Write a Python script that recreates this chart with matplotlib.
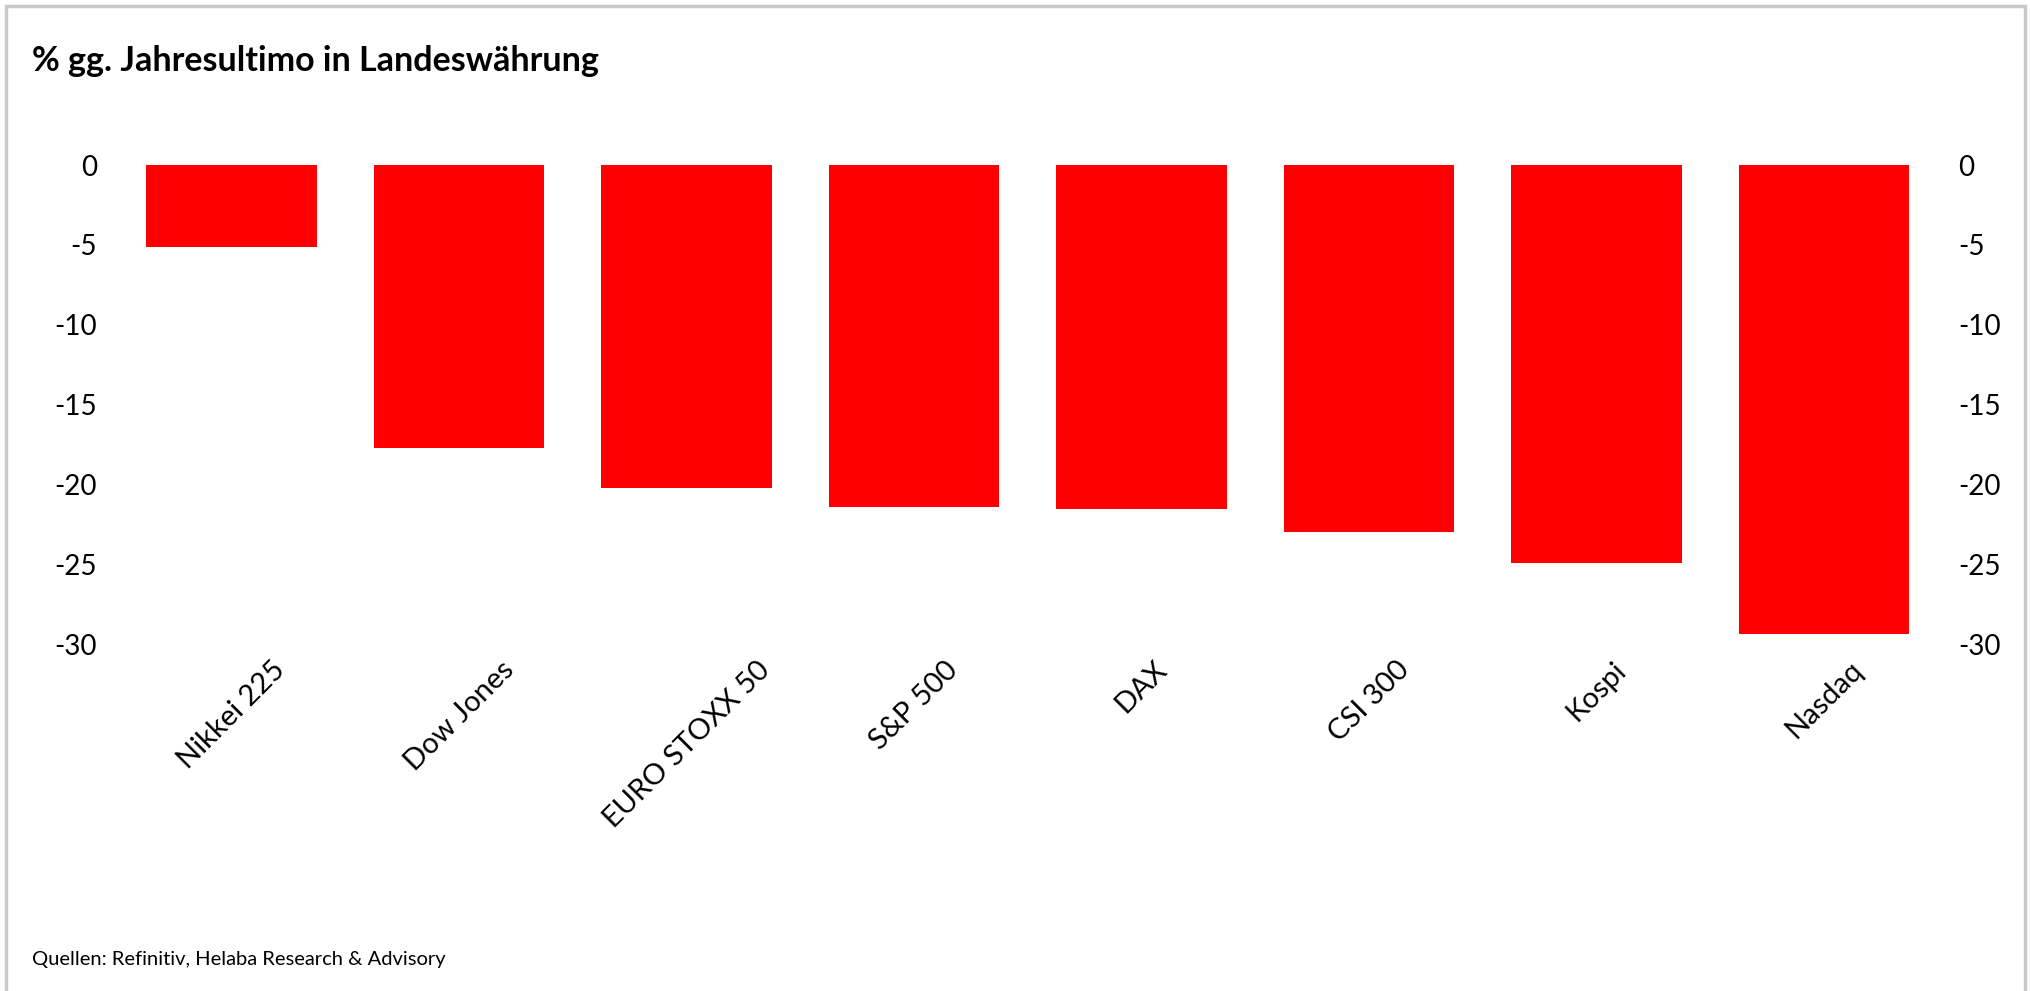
import matplotlib
matplotlib.use("Agg")
import matplotlib.pyplot as plt
from matplotlib.patches import Rectangle
import numpy as np

# data (% change vs. year end, local currency)
indices = ["Nikkei 225", "Dow Jones", "EURO STOXX 50", "S&P 500", "DAX", "CSI 300", "Kospi", "Nasdaq"]
changes = [-5.15, -17.7, -20.2, -21.4, -21.55, -23.0, -24.9, -29.35]
yticks = [0, -5, -10, -15, -20, -25, -30]

plt.rcParams["font.family"] = ["Lato", "DejaVu Sans"]

fig = plt.figure(figsize=(20.31, 9.91), dpi=100)
ax = fig.add_axes([0.0581, 0.350, 0.8959, 0.4835])

x = np.arange(len(indices))
ax.bar(x, changes, width=0.75, color="#ff0000")

ax.set_xlim(-0.5, len(indices) - 0.5)
ax.set_ylim(-30, 0)
ax.set_yticks(yticks)
ax.set_yticklabels([str(t) for t in yticks])
ax.set_xticks(x)
ax.set_xticklabels(indices, rotation=45, ha="center", va="top")

ax.tick_params(axis="x", length=0, pad=9, labelsize=21)
ax.tick_params(axis="y", length=0, labelsize=20, pad=15,
               labelleft=True, labelright=True)
for s in ax.spines.values():
    s.set_visible(False)

fig.text(32 / 2031, 1 - 61 / 991, "% gg. Jahresultimo in Landeswährung",
         fontsize=24.5, fontweight="bold", va="center", ha="left")
fig.text(32 / 2031, 1 - 960 / 991, "Quellen: Refinitiv, Helaba Research & Advisory",
         fontsize=14.5, va="center", ha="left")

# light grey frame round the chart
fig.patches.append(Rectangle((0.003, -0.01), 0.994, 1.004, transform=fig.transFigure,
                             fill=False, edgecolor="#c8c8c8", linewidth=2.5))

fig.savefig("out.png", dpi=100)
